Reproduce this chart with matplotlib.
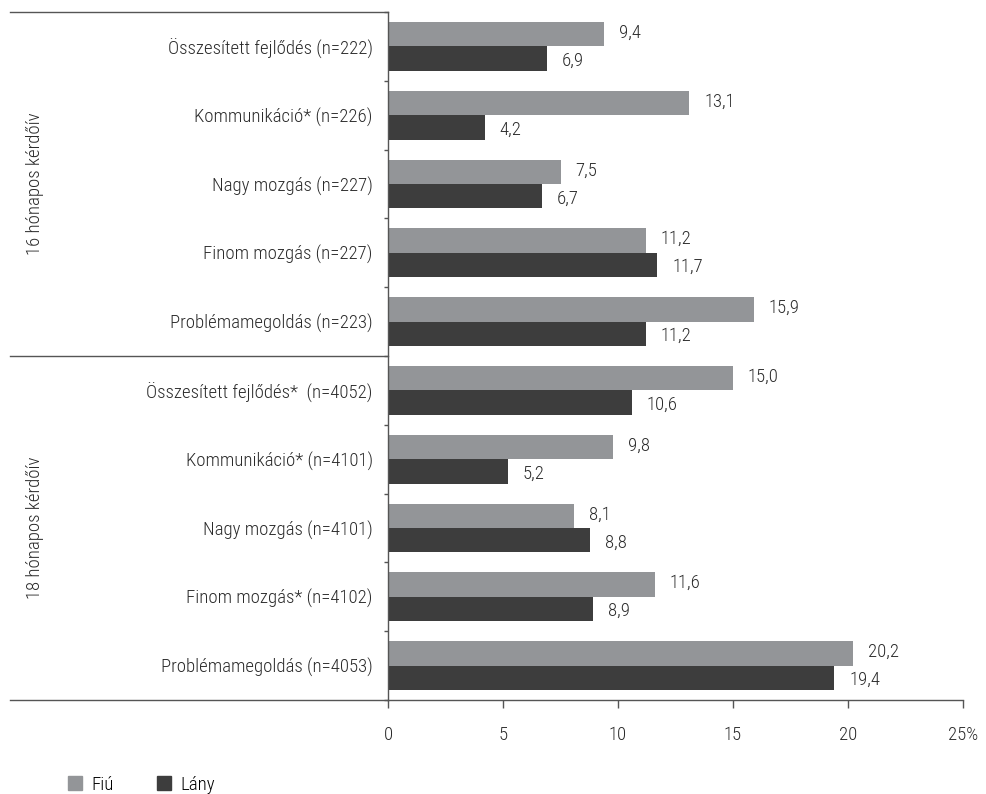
import numpy as np
import matplotlib
matplotlib.use("Agg")
import matplotlib.pyplot as plt
import matplotlib.patches as mpatches
import matplotlib.transforms as mtransforms
from matplotlib import font_manager

# --- Data ---
categories = [
    "Összesített fejlődés (n=222)",
    "Kommunikáció* (n=226)",
    "Nagy mozgás (n=227)",
    "Finom mozgás (n=227)",
    "Problémamegoldás (n=223)",
    "Összesített fejlődés*  (n=4052)",
    "Kommunikáció* (n=4101)",
    "Nagy mozgás (n=4101)",
    "Finom mozgás* (n=4102)",
    "Problémamegoldás (n=4053)",
]
fiu = [9.4, 13.1, 7.5, 11.2, 15.9, 15.0, 9.8, 8.1, 11.6, 20.2]
lany = [6.9, 4.2, 6.7, 11.7, 11.2, 10.6, 5.2, 8.8, 8.9, 19.4]
groups = ["16 hónapos kérdőív", "18 hónapos kérdőív"]
xticks = [0, 5, 10, 15, 20, 25]
xtick_labels = ["0", "5", "10", "15", "20", "25%"]

GREY = "#939598"
DARK = "#3d3d3d"
LINE = "#555555"
TXT = "#2b2b2b"

# pick a condensed / light face if one is installed
fonts = font_manager.fontManager.ttflist
names = {f.name for f in fonts}
family, weight, stretch = "Liberation Sans", "normal", "normal"
for cand in ["Roboto Condensed", "Open Sans Condensed", "Liberation Sans Narrow"]:
    if cand in names:
        family = cand
        weight = "light"
        break
else:
    light = [f for f in fonts if f.name == "Roboto" and f.weight in (300, "light")
             and f.stretch in ("condensed", "semi-condensed")]
    if light:
        family, weight, stretch = "Roboto", "light", "condensed"
    elif any(f.name == "Roboto" and f.weight in (300, "light") for f in fonts):
        family, weight = "Roboto", "light"
plt.rcParams["font.family"] = [family, "DejaVu Sans"]
plt.rcParams["font.weight"] = weight
plt.rcParams["font.stretch"] = stretch
plt.rcParams["font.size"] = 13.5

fig = plt.figure(figsize=(9.86, 7.94), dpi=100)
W, H = 986, 794
ax = fig.add_axes([388 / W, 1 - 700 / H, (963 - 388) / W, (700 - 12) / H])

n = len(categories)
centers = np.arange(n) + 0.5
bh = 0.356
ax.barh(centers - bh / 2, fiu, height=bh, color=GREY, label="Fiú")
ax.barh(centers + bh / 2, lany, height=bh, color=DARK, label="Lány")

fmt = lambda v: f"{v:.1f}".replace(".", ",")
for c, v in zip(centers, fiu):
    ax.text(v + 0.65, c - bh / 2 - 0.02, fmt(v), va="center", ha="left", color=TXT)
for c, v in zip(centers, lany):
    ax.text(v + 0.65, c + bh / 2 + 0.03, fmt(v), va="center", ha="left", color=TXT)

ax.set_xlim(0, 25)
ax.set_ylim(n, 0)

ax.set_xticks(xticks)
ax.set_xticklabels(xtick_labels, color=TXT)
ax.tick_params(axis="x", length=6, width=1, color=LINE, pad=13)

ax.set_yticks(np.arange(n + 1))
ax.set_yticklabels([])
ax.tick_params(axis="y", which="major", length=3, width=1, color=LINE)
ax.set_yticks(centers, minor=True)
ax.set_yticklabels(categories, minor=True, color=TXT)
ax.tick_params(axis="y", which="minor", length=0, pad=11)

for s in ["top", "right"]:
    ax.spines[s].set_visible(False)
for s in ["left", "bottom"]:
    ax.spines[s].set_color(LINE)
    ax.spines[s].set_linewidth(1)

# group separator lines extending into the label area
trans = mtransforms.blended_transform_factory(ax.transAxes, ax.transData)
x_left = (10 - 388) / (963 - 388)
for y in [0, 5, 10]:
    ax.plot([x_left, 0], [y, y], color=LINE, lw=1, transform=trans, clip_on=False)

# group labels
x_grp = (35 - 388) / (963 - 388)
for i, g in enumerate(groups):
    ax.text(x_grp, i * 5 + 2.5, g, rotation=90, ha="center", va="center",
            transform=trans, color=TXT)

handles = [mpatches.Patch(color=GREY, label="Fiú"), mpatches.Patch(color=DARK, label="Lány")]
fig.legend(handles=handles, loc="lower left", bbox_to_anchor=(51 / W, -0.021), ncol=2,
           frameon=False, handlelength=0.75, handleheight=0.8, handletextpad=0.5,
           columnspacing=2.3)

fig.savefig("out.png", dpi=100)
